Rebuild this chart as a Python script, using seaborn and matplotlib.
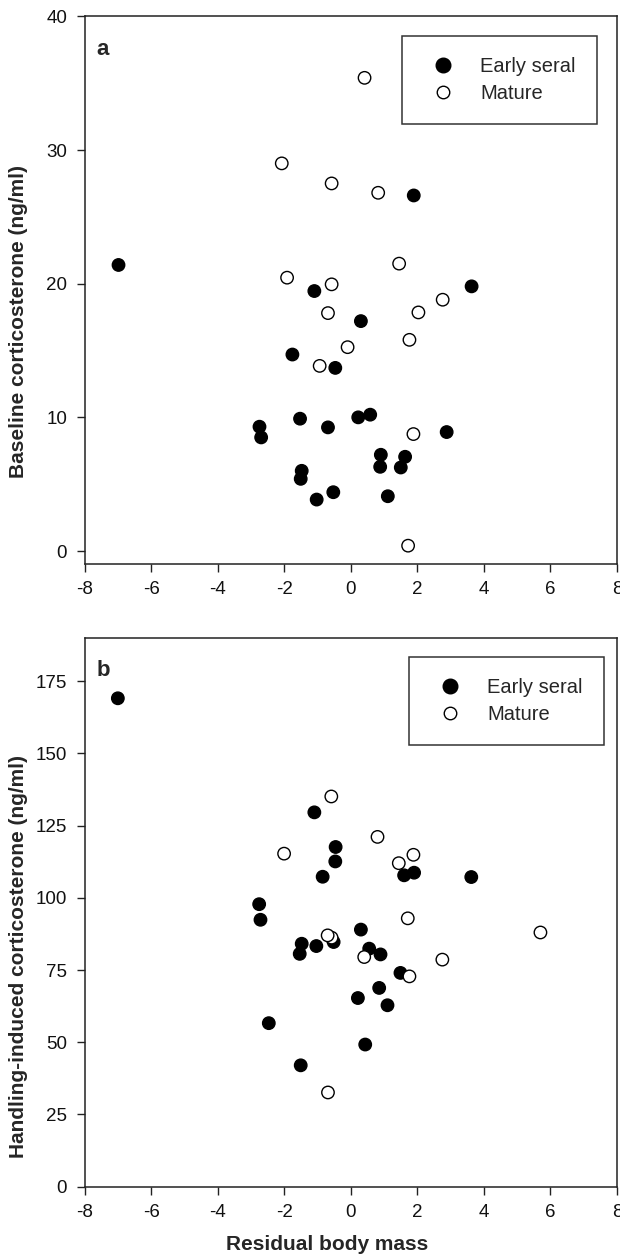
import seaborn as sns
import matplotlib.pyplot as plt
import numpy as np
import pandas as pd

# Panel a: baseline corticosterone vs residual body mass
early_x_a = [1.89, -6.99, -1.10, 3.63, 0.30, -1.76, -0.47, -2.75, -2.70, -1.53, -0.69, 0.22,
             0.58, 2.88, 0.90, 1.63, 0.88, 1.50, -1.48, -1.51, -0.53, -1.03, 1.11]
early_y_a = [26.6, 21.4, 19.45, 19.8, 17.2, 14.7, 13.7, 9.3, 8.5, 9.9, 9.25, 10.0,
             10.2, 8.9, 7.2, 7.05, 6.3, 6.25, 6.0, 5.4, 4.4, 3.85, 4.1]
mature_x_a = [0.41, -2.08, -0.58, 0.82, 1.45, -1.92, -0.58, 2.76, -0.69, 2.03, 1.76, -0.10,
              -0.94, 1.88, 1.72]
mature_y_a = [35.4, 29.0, 27.5, 26.8, 21.5, 20.45, 19.95, 18.8, 17.8, 17.85, 15.8, 15.25,
              13.85, 8.75, 0.4]

# Panel b: handling-induced corticosterone vs residual body mass
early_x_b = [-7.01, -1.10, -0.46, -0.47, -0.85, 1.60, 1.90, 3.62, -2.76, -2.72, 0.30, -0.52,
             -1.48, -1.54, -1.04, 0.55, 0.89, 1.49, 0.85, 0.21, 1.10, -2.47, 0.43, -1.51]
early_y_b = [169.1, 129.6, 117.6, 112.6, 107.3, 107.8, 108.7, 107.2, 97.8, 92.4, 89.0, 84.7,
             84.1, 80.6, 83.3, 82.4, 80.4, 74.0, 68.8, 65.3, 62.8, 56.6, 49.2, 42.0]
mature_x_b = [-0.59, 0.80, -2.01, 1.88, 1.44, 1.71, 5.70, -0.58, -0.70, 0.40, 2.75, 1.76, -0.69]
mature_y_b = [135.1, 121.1, 115.3, 114.9, 112.0, 92.9, 88.0, 86.2, 87.0, 79.5, 78.6, 72.8, 32.6]

groups = ["Early seral", "Mature"]
x_ticks = [-8, -6, -4, -2, 0, 2, 4, 6, 8]
y_ticks_a = [0, 10, 20, 30, 40]
y_ticks_b = [0, 25, 50, 75, 100, 125, 150, 175]


def make_df(ex, ey, mx, my):
    return pd.DataFrame({
        "x": ex + mx,
        "y": ey + my,
        "site": [groups[0]] * len(ex) + [groups[1]] * len(mx),
    })


df_a = make_df(early_x_a, early_y_a, mature_x_a, mature_y_a)
df_b = make_df(early_x_b, early_y_b, mature_x_b, mature_y_b)

sns.set_style("ticks")
plt.rcParams["font.family"] = ["Liberation Sans", "DejaVu Sans"]
plt.rcParams["axes.unicode_minus"] = False

fig = plt.figure(figsize=(6.2, 12.57), dpi=100)
ax_a = fig.add_axes([0.137, 0.551, 0.858, 0.436])
ax_b = fig.add_axes([0.137, 0.056, 0.858, 0.4365])

palette = {"Early seral": "black", "Mature": "white"}

panels = [
    (ax_a, df_a, "a", (-1, 40), y_ticks_a, "Baseline corticosterone (ng/ml)", 0.4425, 0.596),
    (ax_b, df_b, "b", (0, 190), y_ticks_b, "Handling-induced corticosterone (ng/ml)", 0.42, 0.609),
]

for ax, df, letter, ylim, yticks, ylabel, ylab_pos, leg_x in panels:
    sns.scatterplot(data=df, x="x", y="y", hue="site", hue_order=groups, palette=palette,
                    edgecolor="black", linewidth=1.0, s=80, ax=ax)
    ax.set_xlim(-8, 8)
    ax.set_ylim(*ylim)
    ax.set_xticks(x_ticks)
    ax.set_yticks(yticks)
    ax.tick_params(axis="both", direction="out", length=5.8, width=1.0, labelsize=13.5,
                   color="#222222", labelcolor="#111111")
    ax.tick_params(axis="x", pad=6.5)
    ax.tick_params(axis="y", pad=7)
    for sp in ax.spines.values():
        sp.set_visible(True)
        sp.set_color("#222222")
        sp.set_linewidth(1.1)
    ax.set_ylabel(ylabel, fontsize=15, fontweight="bold", va="center")
    ax.yaxis.set_label_coords(-0.124, ylab_pos)
    ax.text(0.021, 0.939 if letter == "a" else 0.94, letter, transform=ax.transAxes,
            fontsize=16, fontweight="bold", va="center", ha="left")
    handles, labels = ax.get_legend_handles_labels()
    leg = ax.legend(handles, labels, loc="upper left", bbox_to_anchor=(leg_x, 0.965),
                    frameon=True, fancybox=False, fontsize=14.5, borderpad=1.05,
                    handlelength=2.0, handletextpad=0.83, labelspacing=0.4,
                    edgecolor="black", borderaxespad=0)
    leg.get_frame().set_linewidth(1.1)
    for h, size in zip(leg.legend_handles, [10.5, 9.0]):
        h.set_markeredgecolor("black")
        h.set_markersize(size)

ax_a.set_xlabel("")
ax_b.set_xlabel("Residual body mass", fontsize=15, fontweight="bold", va="center")
ax_b.xaxis.set_label_coords(0.456, -0.106)

fig.savefig("out.png", dpi=100)
